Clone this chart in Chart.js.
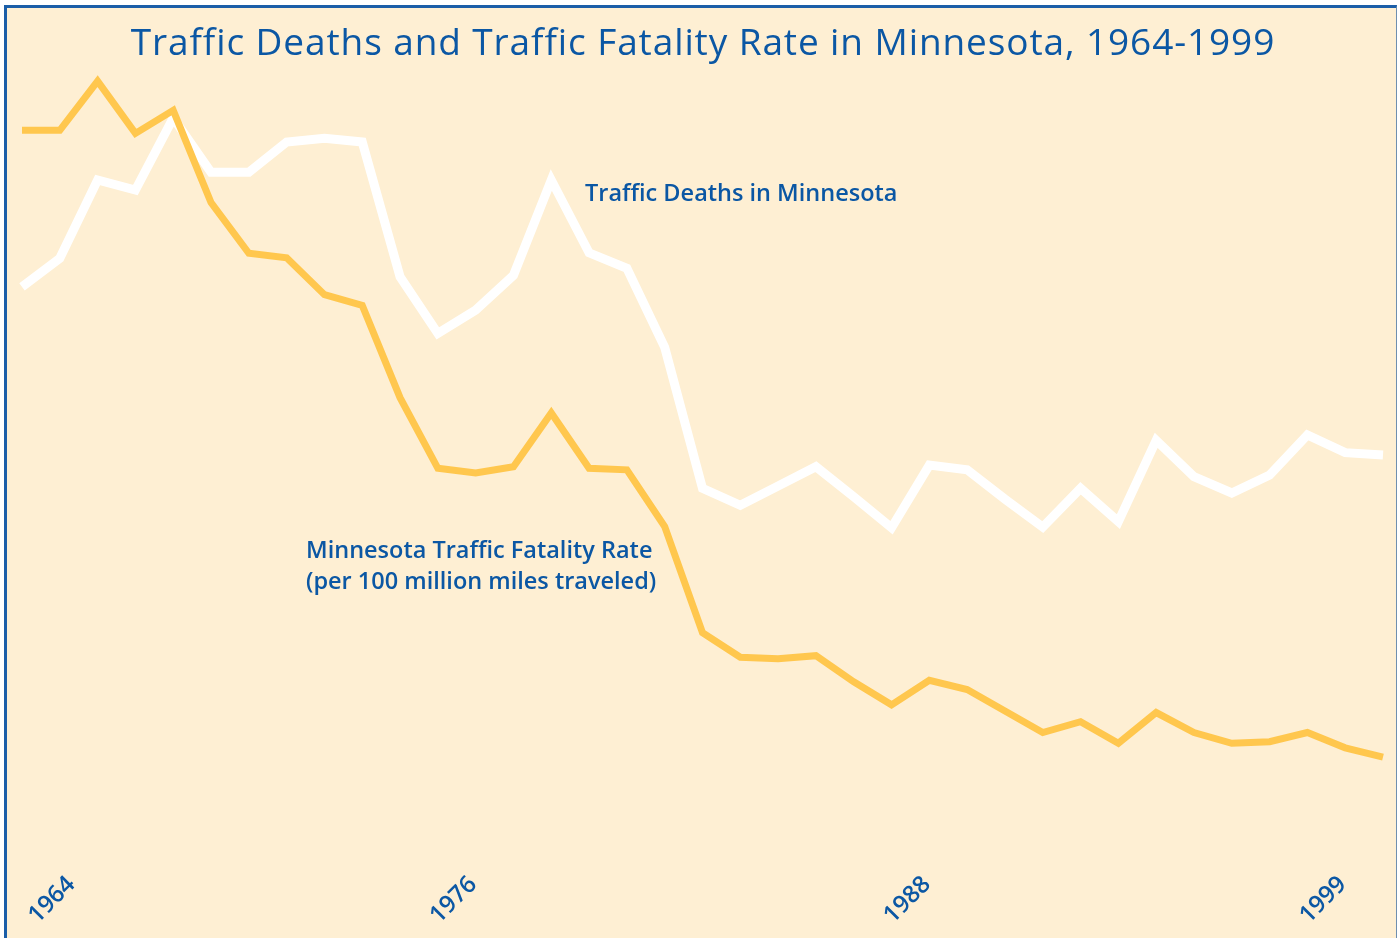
<!DOCTYPE html>
<html>
<head>
<meta charset="utf-8">
<script src="https://cdn.jsdelivr.net/npm/chart.js@4.4.1/dist/chart.umd.min.js"></script>
<style>
  html, body { margin: 0; padding: 0; background: #ffffff; }
  #frame { position: absolute; left: 4px; top: 5px; width: 1389px; height: 940px;
           background: #FEEFD3; border-left: 3px solid #1B5EA8; border-top: 3px solid #1B5EA8;
           border-right: 1px solid #6F8FAF; }
  #wrap { position: absolute; left: 0; top: 0; width: 1398px; height: 938px; }
  .txt { position: absolute; color: #0B57A4; font-family: "Open Sans", "Noto Sans", sans-serif; white-space: nowrap; }
  #title { left: 4px; width: 1398px; text-align: center; top: 19px; font-size: 37px; line-height: 44px; letter-spacing: 0.9px; font-weight: 400; }
  #lblDeaths { left: 585px; top: 175px; font-size: 23.5px; line-height: 34px; font-weight: 600; }
  #lblRate { left: 306px; top: 534px; font-size: 23.5px; line-height: 31px; font-weight: 600; }
</style>
</head>
<body>
<div id="frame"></div>
<div id="wrap"><canvas id="c" width="1398" height="938"></canvas></div>
<div class="txt" id="title">Traffic Deaths and Traffic Fatality Rate in Minnesota, 1964-1999</div>
<div class="txt" id="lblDeaths">Traffic Deaths in Minnesota</div>
<div class="txt" id="lblRate">Minnesota Traffic Fatality Rate<br>(per 100 million miles traveled)</div>
<script>
// ---- data ----
const years = [1964,1965,1966,1967,1968,1969,1970,1971,1972,1973,1974,1975,1976,1977,1978,1979,1980,1981,1982,
               1983,1984,1985,1986,1987,1988,1989,1990,1991,1992,1993,1994,1995,1996,1997,1998,1999,2000];
const trafficDeaths = [842,879,980,967,1060,990,990,1029,1034,1029,855,782,812,857,980,886,866,764,582,
                       560,585,610,571,531,612,606,568,532,582,539,644,597,576,599,651,628,625];
const fatalityRate = [5.23,5.23,5.55,5.21,5.36,4.76,4.43,4.40,4.16,4.09,3.49,3.03,3.00,3.04,3.39,3.03,3.02,2.65,1.96,
                      1.80,1.79,1.81,1.64,1.49,1.65,1.59,1.45,1.31,1.38,1.24,1.44,1.31,1.24,1.25,1.31,1.21,1.15];
const tickYears = [1964, 1976, 1988, 1999];

const deathsRange = { min: 102.2, max: 1134.9 };
const rateRange = { min: 0.48, max: 5.688 };

const yearLabelsPlugin = {
  id: 'yearLabels',
  afterDraw(chart) {
    const ctx = chart.ctx;
    const xs = chart.scales.x;
    ctx.save();
    ctx.fillStyle = '#0B57A4';
    ctx.font = '600 24px "Open Sans", "Noto Sans", sans-serif';
    ctx.textAlign = 'center';
    ctx.textBaseline = 'middle';
    tickYears.forEach(y => {
      const i = years.indexOf(y);
      // rotated label ends near its tick (like a rotated axis label)
      let px = xs.getPixelForValue(i) - 22;
      px = Math.max(52, px);
      ctx.save();
      ctx.translate(px, 900);
      ctx.rotate(-Math.PI / 4);
      ctx.fillText(String(y), 0, 0);
      ctx.restore();
    });
    ctx.restore();
  }
};

new Chart(document.getElementById('c'), {
  type: 'line',
  data: {
    labels: years.map(String),
    datasets: [
      { label: 'Minnesota Traffic Fatality Rate', data: fatalityRate, yAxisID: 'yRate',
        borderColor: '#FFC74E', borderWidth: 7, pointRadius: 0, tension: 0, order: 0, fill: false },
      { label: 'Traffic Deaths in Minnesota', data: trafficDeaths, yAxisID: 'yDeaths',
        borderColor: '#FFFFFF', borderWidth: 9, pointRadius: 0, tension: 0, order: 1, fill: false }
    ]
  },
  options: {
    responsive: false,
    animation: false,
    layout: { padding: { left: 22, right: 15, top: 60, bottom: 78 } },
    plugins: { legend: { display: false }, title: { display: false }, tooltip: { enabled: false } },
    elements: { line: { borderJoinStyle: 'miter', borderCapStyle: 'butt' } },
    scales: {
      x: { type: 'category', display: false, offset: false },
      yDeaths: { type: 'linear', display: false, min: deathsRange.min, max: deathsRange.max, position: 'left' },
      yRate: { type: 'linear', display: false, min: rateRange.min, max: rateRange.max, position: 'right' }
    }
  },
  plugins: [yearLabelsPlugin]
});
</script>
</body>
</html>
